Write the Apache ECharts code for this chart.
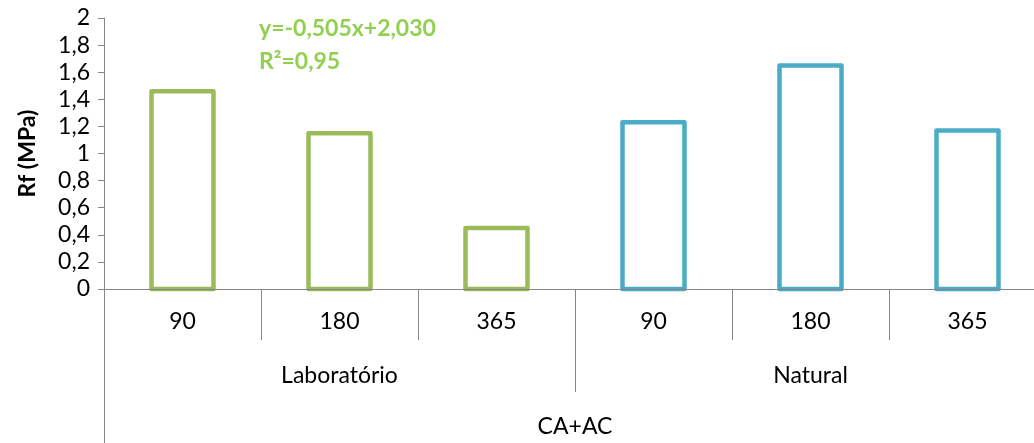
<!DOCTYPE html>
<html>
<head>
<meta charset="utf-8">
<script src="https://cdn.jsdelivr.net/npm/echarts@6/dist/echarts.min.js"></script>
<style>
html,body{margin:0;padding:0;background:#fff;overflow:hidden;width:1034px;height:443px;}
#chart{width:1046px;height:443px;}
</style>
</head>
<body>
<div id="chart"></div>
<script>
var ageLabels = ['90', '180', '365'];
var groupLabels = ['Laboratório', 'Natural'];
var topLabel = ['CA+AC'];
var labValues = [1.46, 1.15, 0.45];
var naturalValues = [1.23, 1.65, 1.17];
var yTickLabels = ['0', '0,2', '0,4', '0,6', '0,8', '1', '1,2', '1,4', '1,6', '1,8', '2'];
var eqLine1 = 'y=-0,505x+2,030';
var eqLine2 = 'R²=0,95';

var FONT = 'Lato, "Open Sans", sans-serif';
var FS = 23;
var categories = ageLabels.concat(ageLabels);
var labData = labValues.map(function(v, i){ return [i, v]; });
var natData = naturalValues.map(function(v, i){ return [i + labValues.length, v]; });

function makeRender(color) {
  return function(params, api) {
    var top = api.coord([api.value(0), api.value(1)]);
    var base = api.coord([api.value(0), 0]);
    var w = 62;
    return {
      type: 'rect',
      shape: {x: top[0] - w / 2, y: top[1], width: w, height: base[1] - top[1]},
      style: {fill: '#ffffff', stroke: color, lineWidth: 4.5, lineJoin: 'round'}
    };
  };
}

var chart = echarts.init(document.getElementById('chart'));
chart.setOption({
  animation: false,
  grid: {left: 104, top: 18, bottom: 154, right: 0, containLabel: false},
  xAxis: [
    {
      type: 'category', data: categories, position: 'bottom', z: 10,
      axisLine: {show: true, lineStyle: {color: '#868686', width: 1}},
      axisTick: {show: true, interval: 0, length: 51, lineStyle: {color: '#868686'}},
      axisLabel: {interval: 0, margin: 21, fontSize: FS, color: '#000', fontFamily: FONT}
    },
    {
      type: 'category', data: groupLabels, position: 'bottom',
      axisLine: {show: false},
      axisTick: {show: true, interval: 0, length: 103, lineStyle: {color: '#868686'}},
      axisLabel: {interval: 0, margin: 75, fontSize: FS, color: '#000', fontFamily: FONT}
    },
    {
      type: 'category', data: topLabel, position: 'bottom',
      axisLine: {show: false},
      axisTick: {show: true, interval: 0, length: 154, lineStyle: {color: '#868686'}},
      axisLabel: {interval: 0, margin: 126, fontSize: FS, color: '#000', fontFamily: FONT}
    }
  ],
  yAxis: {
    type: 'value', min: 0, max: 2, interval: 0.2,
    name: 'Rf (MPa)', nameLocation: 'middle', nameGap: 65,
    nameTextStyle: {fontSize: FS, fontWeight: 'bold', color: '#000', fontFamily: FONT},
    axisLine: {show: true, lineStyle: {color: '#868686', width: 1}},
    axisTick: {show: true, length: 6, lineStyle: {color: '#868686'}},
    splitLine: {show: false},
    axisLabel: {
      margin: 14, fontSize: FS, color: '#000', fontFamily: FONT,
      formatter: function(v){ return yTickLabels[Math.round(v / 0.2)]; }
    }
  },
  series: [
    {type: 'custom', xAxisIndex: 0, data: labData, z: 1, renderItem: makeRender('#9BBB59')},
    {type: 'custom', xAxisIndex: 0, data: natData, z: 1, renderItem: makeRender('#4BACC6')}
  ],
  graphic: [
    {type: 'text', left: 259, top: 17, style: {text: eqLine1, fill: '#92D050', font: 'bold ' + FS + 'px ' + FONT}},
    {type: 'text', left: 259, top: 50, style: {text: eqLine2, fill: '#92D050', font: 'bold ' + FS + 'px ' + FONT}}
  ]
});
</script>
</body>
</html>
